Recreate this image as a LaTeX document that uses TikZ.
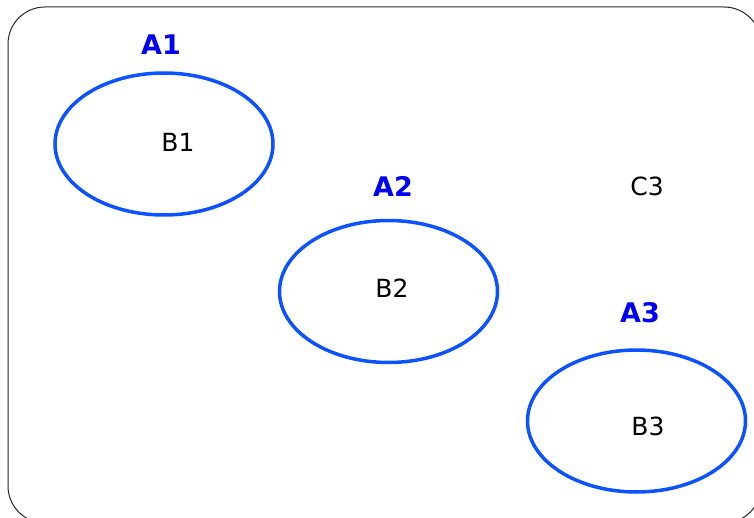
\documentclass[tikz,border=0pt]{standalone}
\usepackage{fontspec}
\setmainfont{DejaVu Sans}
\usetikzlibrary{shapes.geometric}
\definecolor{ellblue}{RGB}{12,82,255}
\definecolor{labblue}{RGB}{0,0,240}
\tikzset{
  ell/.style={draw=ellblue, line width=3.5pt, ellipse, minimum width=218pt, minimum height=142pt, inner sep=0pt},
  inner/.style={font=\fontsize{25}{30}\selectfont, text=black},
  lab/.style={font=\fontsize{27}{32}\selectfont\bfseries, text=labblue},
}
\begin{document}
\begin{tikzpicture}[x=1pt,y=-1pt]
\useasboundingbox (0,0) rectangle (754,518);
\begin{scope}
\clip (0,0) rectangle (754,518);
\draw[line width=1pt, rounded corners=37pt, black!85] (8,7) rectangle (761,523);
\end{scope}
\node[ell] (E1) at (164,144) {};
\node[ell] (E2) at (388.5,291.5) {};
\node[ell] (E3) at (636.5,421) {};
\node[inner] (B1) at (178,142) {B1};
\node[inner] (B2) at (392,288) {B2};
\node[inner] (B3) at (648,426) {B3};
\node[inner] (C3) at (647,186) {C3};
\node[lab] (A1) at (161,45) {A1};
\node[lab] (A2) at (393,186) {A2};
\node[lab] (A3) at (640,313) {A3};
\end{tikzpicture}
\end{document}
